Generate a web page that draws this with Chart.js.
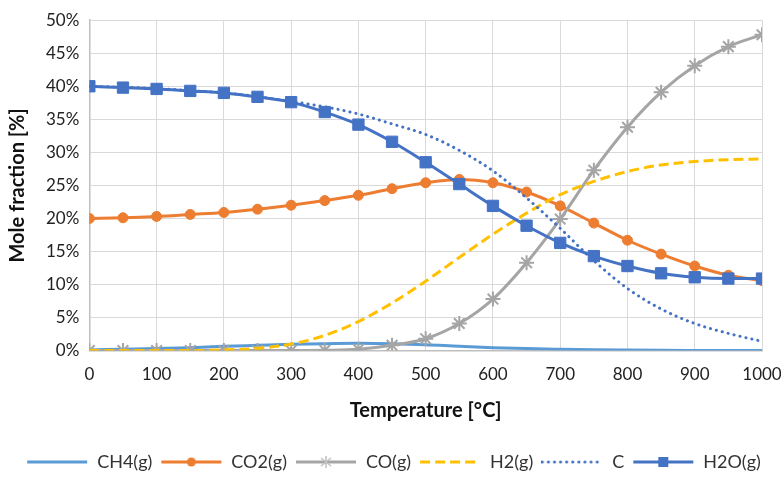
<!DOCTYPE html>
<html>
<head>
<meta charset="utf-8">
<script src="https://cdn.jsdelivr.net/npm/chart.js@4/dist/chart.umd.min.js"></script>
<style>
  html,body{margin:0;padding:0;background:#fff;}
  #wrap{width:781px;height:481px;}
</style>
</head>
<body>
<div id="wrap"><canvas id="chart" width="781" height="481"></canvas></div>
<script>
const temps = [0,50,100,150,200,250,300,350,400,450,500,550,600,650,700,750,800,850,900,950,1000];
const ch4 = [0.1,0.2,0.3,0.45,0.65,0.8,0.95,1.05,1.1,1.05,0.9,0.65,0.45,0.3,0.2,0.12,0.08,0.05,0.03,0.02,0.01];
const co2 = [20.0,20.1,20.3,20.6,20.9,21.4,22.0,22.7,23.5,24.5,25.4,25.9,25.4,24.0,21.9,19.3,16.7,14.6,12.8,11.4,10.6];
const co = [0,0,0,0,0,0,0,0.05,0.2,0.8,1.8,4.1,7.8,13.3,19.9,27.3,33.8,39.1,43.1,46.0,47.8];
const h2 = [0,0,0,0,0.1,0.35,1.0,2.3,4.4,7.2,10.5,14.1,17.6,20.8,23.6,25.6,27.1,28.1,28.6,28.9,29.0];
const carbon = [40,39.85,39.65,39.35,39.0,38.45,37.7,36.9,35.8,34.3,32.7,30.3,27.2,23.1,18.5,13.6,9.4,6.3,4.1,2.6,1.4];
const h2o = [40,39.8,39.6,39.3,39.0,38.4,37.6,36.1,34.2,31.6,28.5,25.2,21.9,18.9,16.3,14.3,12.8,11.7,11.1,10.9,10.9];

const FONT = "Lato";
const pts = arr => arr.map((v,i)=>({x:temps[i], y:v}));

// little legend sample: line + marker, drawn on its own canvas
function sample(color, dash, marker){
  const c = document.createElement("canvas");
  c.width = 62; c.height = 14;
  const g = c.getContext("2d");
  g.strokeStyle = color; g.fillStyle = color;
  g.lineWidth = 3;
  if(dash){ g.setLineDash(dash); g.lineCap = dash[0] < 1 ? "round" : "butt"; }
  g.beginPath(); g.moveTo(1,7); g.lineTo(61,7); g.stroke();
  g.setLineDash([]);
  if(marker==="circle"){ g.beginPath(); g.arc(31,7,4.5,0,Math.PI*2); g.fill(); }
  if(marker==="rect"){ g.fillRect(26,2,10,10); }
  if(marker==="star"){
    g.lineWidth = 1.5; g.strokeStyle = "#c0c0c0";
    g.beginPath();
    g.moveTo(31,1); g.lineTo(31,13);
    g.moveTo(26,3); g.lineTo(36,11);
    g.moveTo(36,3); g.lineTo(26,11);
    g.stroke();
  }
  return c;
}

const series = [
  {label:"CH4(g)", data:ch4, color:"#5b9bd5", dash:null, marker:false, order:5},
  {label:"CO2(g)", data:co2, color:"#ed7d31", dash:null, marker:"circle", order:4},
  {label:"CO(g)", data:co, color:"#a5a5a5", dash:null, marker:"star", order:3},
  {label:"H2(g)", data:h2, color:"#ffc000", dash:[10,5], marker:false, order:2},
  {label:"C", data:carbon, color:"#4472c4", dash:[0.1,6], marker:false, order:1},
  {label:"H2O(g)", data:h2o, color:"#4472c4", dash:null, marker:"rect", order:0}
];

const datasets = series.map(s=>({
  label:s.label,
  data:pts(s.data),
  borderColor:s.color,
  backgroundColor:s.color,
  borderWidth:3,
  borderDash:s.dash || [],
  borderCapStyle:s.dash && s.dash[0] < 1 ? "round" : "butt",
  cubicInterpolationMode:"monotone",
  pointStyle:s.marker || "circle",
  pointRadius:s.marker==="rect" ? 8 : (s.marker==="star" ? 7.5 : (s.marker ? 5 : 0)),
  pointBorderWidth:s.marker==="star" ? 2 : 1,
  pointBorderColor:s.color,
  pointBackgroundColor:s.color,
  order:s.order,
  legendImg:sample(s.color, s.dash, s.marker)
}));

new Chart(document.getElementById("chart"),{
  type:"line",
  data:{datasets},
  options:{
    responsive:false,
    animation:false,
    layout:{padding:{left:6,right:0,top:12,bottom:0}},
    plugins:{
      tooltip:{enabled:false},
      legend:{
        position:"bottom",
        labels:{
          usePointStyle:true,
          pointStyleWidth:62,
          padding:8,
          color:"#333",
          font:{family:FONT,size:18},
          sort:(a,b)=>a.datasetIndex-b.datasetIndex,
          generateLabels(chart){
            const items = Chart.defaults.plugins.legend.labels.generateLabels(chart);
            items.forEach(it=>{ it.pointStyle = chart.data.datasets[it.datasetIndex].legendImg; });
            return items;
          }
        }
      }
    },
    scales:{
      x:{
        type:"linear", min:0, max:1000,
        afterFit(scale){ scale.paddingRight = 19; },
        ticks:{stepSize:100, color:"#222", font:{family:FONT,size:17}, padding:14, maxRotation:0, callback:v=>String(v)},
        grid:{color:"#d9d9d9", drawTicks:false},
        border:{color:"#bfbfbf", width:1.5},
        title:{display:true, text:"Temperature [°C]", color:"#111", font:{family:FONT,size:20,weight:"bold"}, padding:{top:0,bottom:22}}
      },
      y:{
        min:0, max:50,
        ticks:{stepSize:5, color:"#222", font:{family:FONT,size:17}, padding:10, callback:v=>v+"%"},
        grid:{color:"#d9d9d9", drawTicks:false},
        border:{color:"#bfbfbf", width:1.5},
        title:{display:true, text:"Mole fraction [%]", color:"#111", font:{family:FONT,size:20,weight:"bold"}, padding:{top:0,bottom:6}}
      }
    }
  }
});
</script>
</body>
</html>
